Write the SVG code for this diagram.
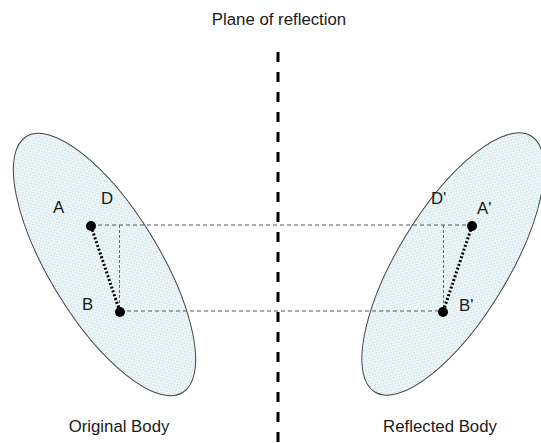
<svg xmlns="http://www.w3.org/2000/svg" width="541" height="443" viewBox="0 0 541 443">
<defs>
<pattern id="dots" width="4" height="4" patternUnits="userSpaceOnUse">
<rect width="4" height="4" fill="#f3f9fa"/>
<rect x="0" y="0" width="2" height="2" fill="#d3e8ed"/>
<rect x="2" y="2" width="2" height="2" fill="#dfeef1"/>
</pattern>
<style>
.body{fill:url(#dots);stroke:#444;stroke-width:1}
.lbl{font-family:"Liberation Sans",Arial,sans-serif;font-size:16.8px;fill:#1a1a1a}
.proj{stroke:#555;stroke-width:1;stroke-dasharray:4 3;fill:none}
.perp{stroke:#666;stroke-width:1;stroke-dasharray:3 2;fill:none}
.seg{stroke:#000;stroke-width:3;stroke-dasharray:2 2;fill:none}
.pt{fill:#000}
.plane{stroke:#000;stroke-width:3;stroke-dasharray:10 10;fill:none}
</style>
</defs>
<rect width="541" height="443" fill="#fff"/>
<g id="title"><text class="lbl" x="279" y="25" text-anchor="middle">Plane of reflection</text></g>
<g id="original-body">
<ellipse class="body" cx="104.5" cy="264.5" rx="150" ry="55" transform="rotate(58.6 104.5 264.5)"/>
<text class="lbl" x="119" y="432" text-anchor="middle">Original Body</text>
</g>
<g id="reflected-body">
<ellipse class="body" cx="453" cy="264" rx="150" ry="55" transform="rotate(-58.6 453 264)"/>
<text class="lbl" x="440" y="432" text-anchor="middle">Reflected Body</text>
</g>
<g id="connectors">
<line class="plane" x1="278" y1="52" x2="278" y2="443"/>
<line class="proj" x1="91" y1="225" x2="472" y2="225"/>
<line class="proj" x1="120" y1="311" x2="443" y2="311"/>
<line class="perp" x1="119.5" y1="225" x2="119.5" y2="311"/>
<line class="perp" x1="443.5" y1="225" x2="443.5" y2="311"/>
<line class="seg" x1="91" y1="226" x2="120" y2="312"/>
<line class="seg" x1="472" y1="226" x2="443" y2="312"/>
</g>
<g id="point-A"><circle class="pt" cx="91" cy="226" r="5"/><text class="lbl" x="53" y="213">A</text></g>
<g id="point-B"><circle class="pt" cx="120" cy="312" r="5"/><text class="lbl" x="82" y="310">B</text></g>
<g id="point-D"><text class="lbl" x="101" y="204">D</text></g>
<g id="point-A2"><circle class="pt" cx="472" cy="226" r="5"/><text class="lbl" x="477" y="214">A'</text></g>
<g id="point-B2"><circle class="pt" cx="443" cy="312" r="5"/><text class="lbl" x="459" y="311">B'</text></g>
<g id="point-D2"><text class="lbl" x="431" y="204">D'</text></g>
</svg>
